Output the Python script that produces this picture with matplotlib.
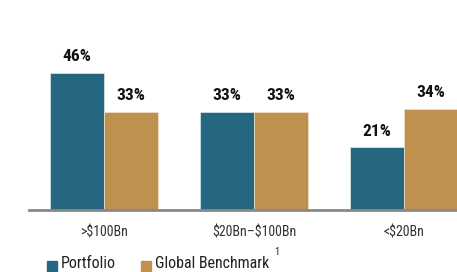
import numpy as np
import matplotlib.pyplot as plt
from matplotlib.patches import Rectangle

plt.rcParams['text.parse_math'] = False

categories = ['>$100Bn', '$20Bn\u2013$100Bn', '<$20Bn']
portfolio = [46, 33, 21]
benchmark = [33, 33, 34]
series_names = ['Portfolio', 'Global Benchmark']

blue = '#256780'
gold = '#BF914F'
font = ['Roboto Condensed', 'DejaVu Sans']

W, H = 457, 272
fig = plt.figure(figsize=(W / 100, H / 100), dpi=100)
ax = fig.add_axes([29 / W, 62 / H, 428 / W, 210 / H])

x = np.arange(len(categories))
w = 0.36
b1 = ax.bar(x - w / 2, portfolio, w, color=blue, edgecolor='#dfe8ec', linewidth=0.5)
b2 = ax.bar(x + w / 2, benchmark, w, color=gold, edgecolor='#efe3d0', linewidth=0.5)

# value labels above each bar
for bars, vals in [(b1, portfolio), (b2, benchmark)]:
    for r, v in zip(bars, vals):
        ax.text(r.get_x() + r.get_width() / 2, v + 4.0, f'{v}%', ha='center', va='baseline',
                fontsize=12.5, fontweight=800, family=font, color='#111111')

ax.set_xlim(-0.5, 2.353)
ax.set_ylim(0, 70.5)
ax.set_yticks([])
ax.set_xticks(x)
ax.set_xticklabels(categories, family=font, fontsize=10, color='#333333')
ax.tick_params(axis='x', length=0, pad=11)
for s in ['top', 'right', 'left']:
    ax.spines[s].set_visible(False)
ax.spines['bottom'].set_color('#888888')
ax.spines['bottom'].set_linewidth(2)

# legend along the bottom edge
for i, (name, c) in enumerate(zip(series_names, [blue, gold])):
    x0 = 47 + i * 94
    fig.patches.append(Rectangle((x0 / W, 1 - 271 / H), 10 / W, 10 / H, color=c,
                                 transform=fig.transFigure, figure=fig))
    fig.text((x0 + 14) / W, 0.5 / H, name, family=font, fontsize=11.5, color='#222222',
             ha='left', va='bottom')
fig.text(277 / W, 1 - 252 / H, '1', family=font, fontsize=7.5, color='#222222',
         ha='center', va='center')

fig.savefig('out.png', dpi=100)
